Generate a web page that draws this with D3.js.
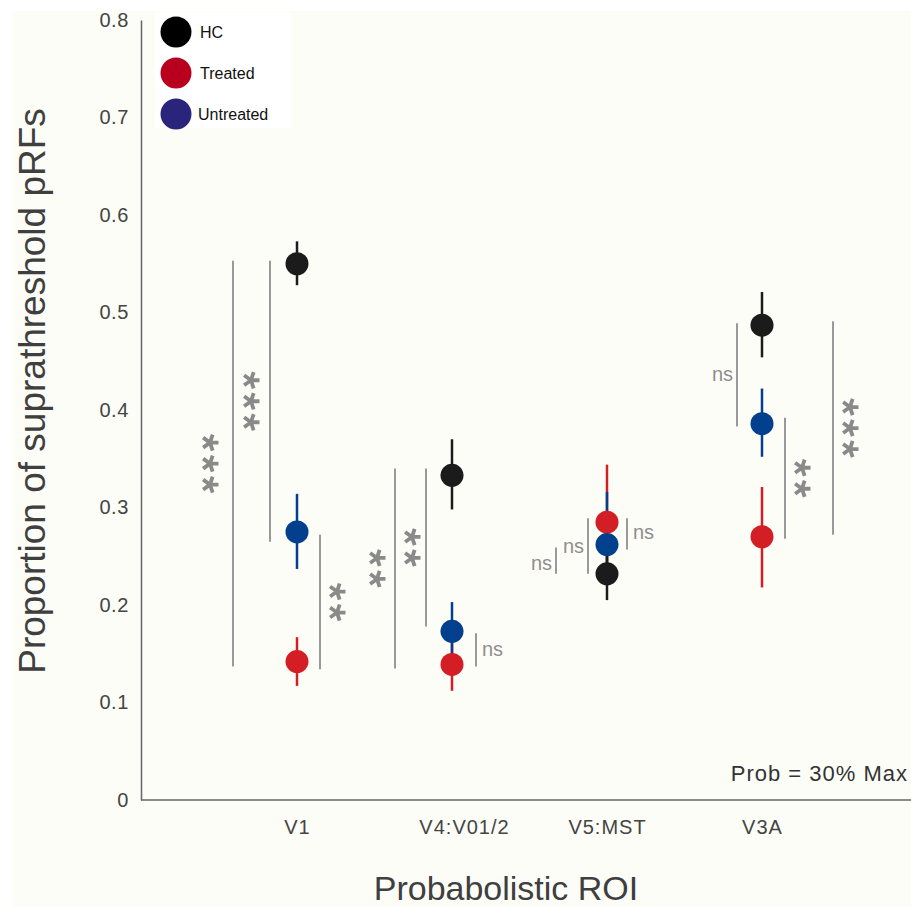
<html>
<head>
  <title>Suprathreshold pRFs</title>
  <script src="https://d3js.org/d3.v7.min.js"></script>
  <style>
    body { margin: 0; background: #ffffff; }
    text { font-family: "Liberation Sans", Arial, sans-serif; }
  </style>
</head>
<body>
  <div id="chart"></div>
  <script>
    // values
    var rois = ["V1", "V4:V01/2", "V5:MST", "V3A"];
    var groups = ["HC", "Treated", "Untreated"];
    var hcMean = [0.550, 0.333, 0.232, 0.487];
    var hcLow = [0.528, 0.298, 0.205, 0.454];
    var hcHigh = [0.573, 0.370, 0.260, 0.521];
    var treatedMean = [0.142, 0.139, 0.285, 0.270];
    var treatedLow = [0.117, 0.112, 0.228, 0.218];
    var treatedHigh = [0.167, 0.165, 0.344, 0.321];
    var untreatedMean = [0.275, 0.173, 0.262, 0.386];
    var untreatedLow = [0.237, 0.148, 0.220, 0.352];
    var untreatedHigh = [0.314, 0.203, 0.316, 0.422];
    var yTicks = [0, 0.1, 0.2, 0.3, 0.4, 0.5, 0.6, 0.7, 0.8];

    // significance brackets: roi, bottom, top, label
    var sigRoi = ["V1", "V1", "V1", "V4:V01/2", "V4:V01/2", "V4:V01/2", "V5:MST", "V5:MST", "V5:MST", "V3A", "V3A", "V3A"];
    var sigLow = [0.137, 0.265, 0.134, 0.135, 0.178, 0.137, 0.232, 0.232, 0.257, 0.383, 0.268, 0.272];
    var sigHigh = [0.553, 0.553, 0.272, 0.340, 0.340, 0.171, 0.259, 0.289, 0.289, 0.489, 0.392, 0.491];
    var sigLabel = ["***", "***", "**", "**", "**", "ns", "ns", "ns", "ns", "ns", "**", "***"];

    var W = 911, H = 907;
    var colors = { HC: "#1b1b1b", Treated: "#d41e26", Untreated: "#023f8c" };
    var legendColors = { HC: "#000000", Treated: "#b8001e", Untreated: "#2b247c" };

    var svg = d3.select("#chart").append("svg")
      .attr("width", W).attr("height", H);

    svg.append("rect").attr("x", 12).attr("y", 11)
      .attr("width", W - 12).attr("height", H - 11).attr("fill", "#fdfdf8");

    var x = d3.scalePoint().domain(rois).range([297, 762]);
    var y = d3.scaleLinear().domain([0, 0.8]).range([800, 20]);

    // y axis
    var yAxis = svg.append("g").attr("transform", "translate(141,0)")
      .call(d3.axisLeft(y).tickValues(yTicks).tickSize(0).tickPadding(12)
        .tickFormat(function(d) { return d === 0 ? "0" : d3.format(".1f")(d); }));
    yAxis.select(".domain").attr("stroke", "#666").attr("stroke-width", 1.5);
    yAxis.selectAll("text").attr("font-size", 20).attr("fill", "#444")
      .style("letter-spacing", "0.6px")
      .style("font-family", "Liberation Sans, Arial, sans-serif");

    // x axis
    var xAxis = svg.append("g").attr("transform", "translate(0,800)")
      .call(d3.axisBottom(x).tickSize(0).tickPadding(20));
    xAxis.select(".domain").remove();
    xAxis.selectAll("text").attr("font-size", 20).attr("fill", "#444")
      .attr("dx", function(d) { return d === "V4:V01/2" ? 12 : 0; })
      .style("letter-spacing", "1px")
      .style("font-family", "Liberation Sans, Arial, sans-serif");
    svg.append("line").attr("x1", 141).attr("x2", W).attr("y1", 800).attr("y2", 800)
      .attr("stroke", "#666").attr("stroke-width", 1.5);

    // axis titles
    svg.append("text")
      .attr("transform", "translate(45,391) rotate(-90)")
      .attr("text-anchor", "middle").attr("font-size", 37).attr("fill", "#3f3f3f")
      .text("Proportion of suprathreshold pRFs");
    svg.append("text")
      .attr("x", 506).attr("y", 900)
      .attr("text-anchor", "middle").attr("font-size", 34).attr("fill", "#3f3f3f")
      .text("Probabolistic ROI");

    svg.append("text").attr("x", 908).attr("y", 781).attr("text-anchor", "end")
      .attr("font-size", 22).attr("fill", "#333").style("letter-spacing", "1px")
      .text("Prob = 30% Max");

    // significance brackets
    var bracketDx = [-64, -27, 23, -57, -26, 24, -51, -19, 20, -25, 23, 71];
    var labelDx = [-23, -19, 17, -18, -14, 6, -4, -4, 6, -4, 17, 17];
    var labelDy = [0, 0, 0, 0, 0, 6, 9, 7, 5, 6, 0, 0];
    var brackets = sigRoi.map(function(r, i) {
      return { roi: r, lo: sigLow[i], hi: sigHigh[i], label: sigLabel[i], dx: bracketDx[i] };
    });
    svg.append("g").selectAll("line").data(brackets).enter().append("line")
      .attr("x1", function(d) { return x(d.roi) + d.dx; })
      .attr("x2", function(d) { return x(d.roi) + d.dx; })
      .attr("y1", function(d) { return y(d.hi); })
      .attr("y2", function(d) { return y(d.lo); })
      .attr("stroke", "#999").attr("stroke-width", 2);

    // rotated asterisk glyph, 5 spokes
    var star = "";
    for (var k = 0; k < 5; k++) {
      var a = k * 2 * Math.PI / 5;
      star += "M0,0L" + (8.5 * Math.cos(a)).toFixed(2) + "," + (8.5 * Math.sin(a)).toFixed(2);
    }

    brackets.forEach(function(d, i) {
      var bx = x(d.roi) + d.dx;
      var cy = y((d.lo + d.hi) / 2);
      if (d.label === "ns") {
        var left = labelDx[i] < 0;
        svg.append("text").attr("x", bx + labelDx[i]).attr("y", cy + labelDy[i])
          .attr("text-anchor", left ? "end" : "start")
          .attr("font-size", 20).attr("fill", "#8f8f8f").text("ns");
      } else {
        var n = d.label.length;
        for (var j = 0; j < n; j++) {
          svg.append("path")
            .attr("d", star)
            .attr("transform", "translate(" + (bx + labelDx[i]) + "," + (cy + (j - (n - 1) / 2) * 21) + ")")
            .attr("stroke", "#8a8a8a").attr("stroke-width", 3.8)
            .attr("stroke-linecap", "butt").attr("fill", "none");
        }
      }
    });

    // error bars and points, drawn in stacking order
    var series = [
      { g: "Treated", mean: treatedMean, lo: treatedLow, hi: treatedHigh },
      { g: "Untreated", mean: untreatedMean, lo: untreatedLow, hi: untreatedHigh },
      { g: "HC", mean: hcMean, lo: hcLow, hi: hcHigh }
    ];
    series.forEach(function(s) {
      var pts = rois.map(function(r, i) {
        return { roi: r, m: s.mean[i], lo: s.lo[i], hi: s.hi[i] };
      });
      svg.append("g").selectAll("line").data(pts).enter().append("line")
        .attr("x1", function(d) { return x(d.roi); })
        .attr("x2", function(d) { return x(d.roi); })
        .attr("y1", function(d) { return y(d.hi); })
        .attr("y2", function(d) { return y(d.lo); })
        .attr("stroke", colors[s.g]).attr("stroke-width", 2.5);
    });
    series.forEach(function(s) {
      var pts = rois.map(function(r, i) { return { roi: r, m: s.mean[i] }; });
      svg.append("g").selectAll("circle").data(pts).enter().append("circle")
        .attr("cx", function(d) { return x(d.roi); })
        .attr("cy", function(d) { return y(d.m); })
        .attr("r", 11.5).attr("fill", colors[s.g]);
    });

    // legend
    var lg = svg.append("g");
    lg.append("rect").attr("x", 155).attr("y", 12).attr("width", 136).attr("height", 116)
      .attr("fill", "#ffffff");
    groups.forEach(function(g, i) {
      lg.append("circle").attr("cx", 176).attr("cy", 32 + i * 41).attr("r", 15.5)
        .attr("fill", legendColors[g]);
      lg.append("text").attr("x", i === 2 ? 198 : 200).attr("y", 38 + i * 41)
        .attr("font-size", 16).attr("fill", "#111").text(g);
    });
  </script>
</body>
</html>
